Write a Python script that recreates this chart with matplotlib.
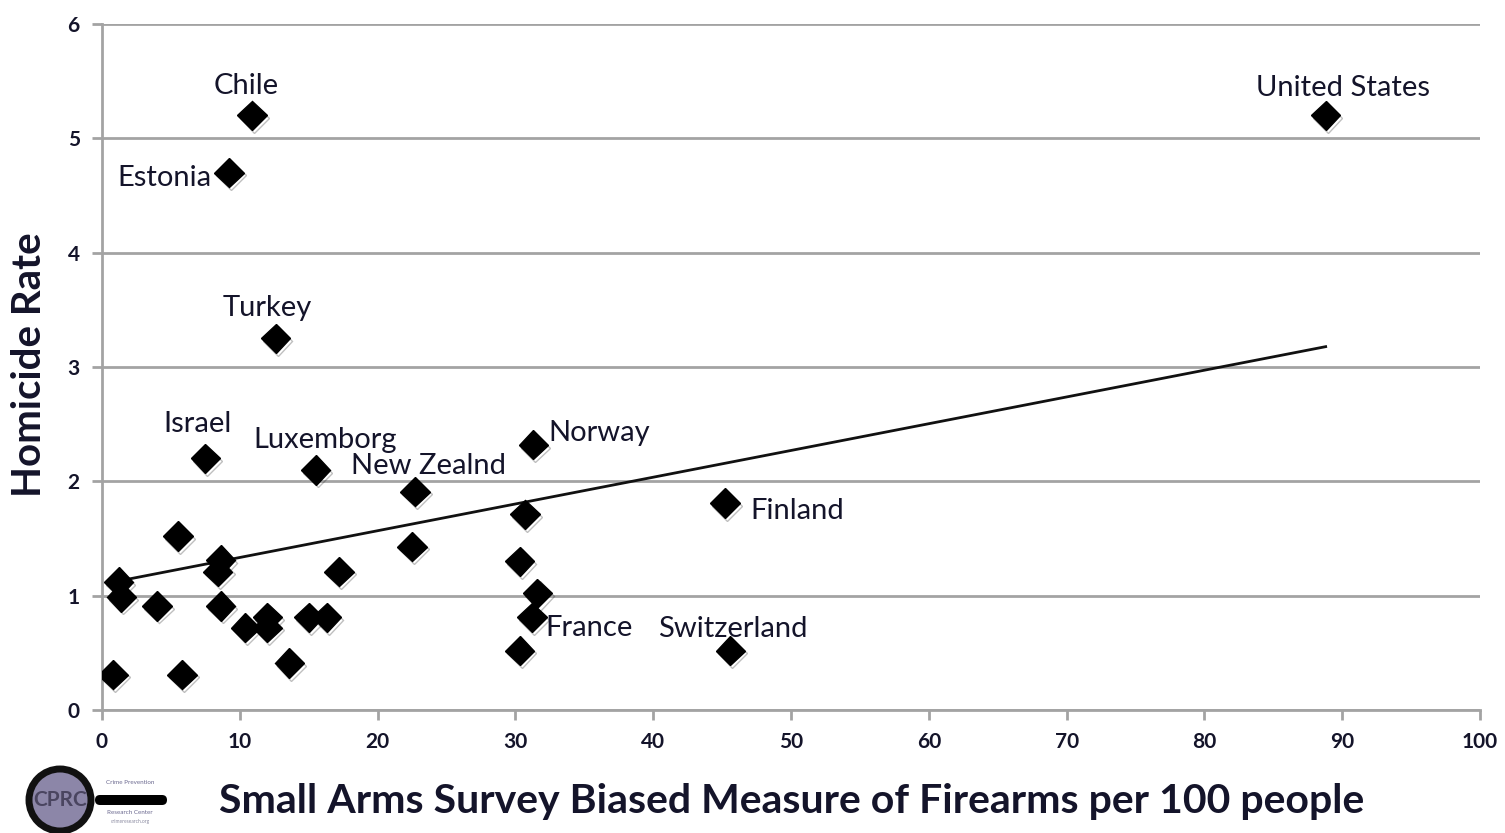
import numpy as np
import matplotlib
matplotlib.use("Agg")
import matplotlib.pyplot as plt
import matplotlib.patheffects as pe
from matplotlib.patches import Circle, FancyBboxPatch

# Firearms per 100 people (x) and homicide rate (y)
firearms = [10.9, 88.8, 9.2, 12.6, 7.5, 15.5, 22.7, 31.3, 45.2, 45.6, 31.2,
            31.6, 30.7, 30.3, 30.3, 22.5, 17.2, 16.3, 15.0, 13.6, 12.0, 12.0,
            10.4, 8.6, 4.0, 8.6, 8.4, 5.5, 1.2, 1.4, 0.8, 5.8]
homicide = [5.2, 5.2, 4.7, 3.25, 2.2, 2.1, 1.91, 2.32, 1.81, 0.52, 0.81,
            1.02, 1.71, 1.30, 0.52, 1.43, 1.21, 0.81, 0.81, 0.41, 0.81, 0.72,
            0.72, 0.91, 0.91, 1.31, 1.21, 1.52, 1.12, 0.99, 0.31, 0.31]

# Linear trend: intercept and slope
trend_intercept = 1.10
trend_slope = 0.0234

# Country labels: (name, index of point, offset in pixels, horizontal alignment)
labels = [
    ("Chile", 0, (-6, 29), "center"),
    ("United States", 1, (17, 27), "center"),
    ("Estonia", 2, (-17, -5), "right"),
    ("Turkey", 3, (-8, 30), "center"),
    ("Israel", 4, (-8, 34), "center"),
    ("Luxemborg", 5, (10, 30), "center"),
    ("New Zealnd", 6, (14, 26), "center"),
    ("Norway", 7, (15, 12), "left"),
    ("Finland", 8, (26, -8), "left"),
    ("Switzerland", 9, (2, 22), "center"),
    ("France", 10, (13, -11), "left"),
]

x_ticks = list(range(0, 101, 10))
y_ticks = list(range(0, 7))

text_color = "#14142a"
grid_color = "#a3a3a3"
font = ["Lato", "DejaVu Sans"]

fig = plt.figure(figsize=(15.05, 8.33), dpi=100)
ax = fig.add_axes([102 / 1505, 123 / 833, 1378 / 1505, 686 / 833])

ax.set_xlim(0, 100)
ax.set_ylim(0, 6)
ax.set_xticks(x_ticks)
ax.set_yticks(y_ticks)
ax.yaxis.grid(True, color=grid_color, linewidth=2)
ax.set_axisbelow(True)
for side in ("top", "right"):
    ax.spines[side].set_visible(False)
for side in ("left", "bottom"):
    ax.spines[side].set_color(grid_color)
    ax.spines[side].set_linewidth(2)
ax.tick_params(axis="both", colors=grid_color, width=2, length=7,
               labelcolor=text_color, labelsize=15, pad=9)
for lab in ax.get_xticklabels() + ax.get_yticklabels():
    lab.set_fontfamily(font)
    lab.set_fontweight("bold")

# Linear trend line over the data range
xs = np.array([min(firearms), max(firearms)])
ax.plot(xs, trend_intercept + trend_slope * xs, color="#111111",
        linewidth=2, zorder=3)

shadow = [pe.SimpleLineShadow(offset=(1.5, -2), shadow_color="#000000",
                              alpha=0.25), pe.Normal()]
ax.plot(firearms, homicide, linestyle="none", marker="D", markersize=15,
        color="black", zorder=4, path_effects=shadow)

for name, i, (dx, dy), ha in labels:
    ax.annotate(name, (firearms[i], homicide[i]), xytext=(dx, dy),
                textcoords="offset pixels", ha=ha, va="center",
                fontsize=21, color=text_color, family=font, zorder=5)

fig.text(30 / 1505, 1 - 365 / 833, "Homicide Rate", rotation=90,
         ha="center", va="center", fontsize=29, fontweight="bold",
         color=text_color, family=font)
fig.text(792 / 1505, 1 - 801 / 833,
         "Small Arms Survey Biased Measure of Firearms per 100 people",
         ha="center", va="center", fontsize=29.5, fontweight="bold",
         color=text_color, family=font)

# Crime Prevention Research Center logo: magnifying glass
logo = fig.add_axes([0, 0, 180 / 1505, 70 / 833])
logo.set_xlim(0, 180)
logo.set_ylim(0, 70)
logo.set_aspect("equal")
logo.axis("off")
logo.add_patch(FancyBboxPatch((95, 28), 72, 10, boxstyle="round,pad=0,rounding_size=5",
                              facecolor="black", edgecolor="none"))
logo.add_patch(Circle((60, 33), 31, facecolor="#8c86a8", edgecolor="#111111",
                      linewidth=5))
logo.text(60, 33, "CPRC", ha="center", va="center", fontsize=15,
          color="#4a4560", family=font, fontweight="bold")
logo.text(130, 50, "Crime Prevention", ha="center", va="center", fontsize=4.5,
          color="#6c6a90", family=font)
logo.text(130, 20, "Research Center", ha="center", va="center", fontsize=4.5,
          color="#6c6a90", family=font)
logo.text(130, 12, "crimeresearch.org", ha="center", va="center", fontsize=3.5,
          color="#8a8aa0", family=font)

fig.savefig("out.png", dpi=100)
